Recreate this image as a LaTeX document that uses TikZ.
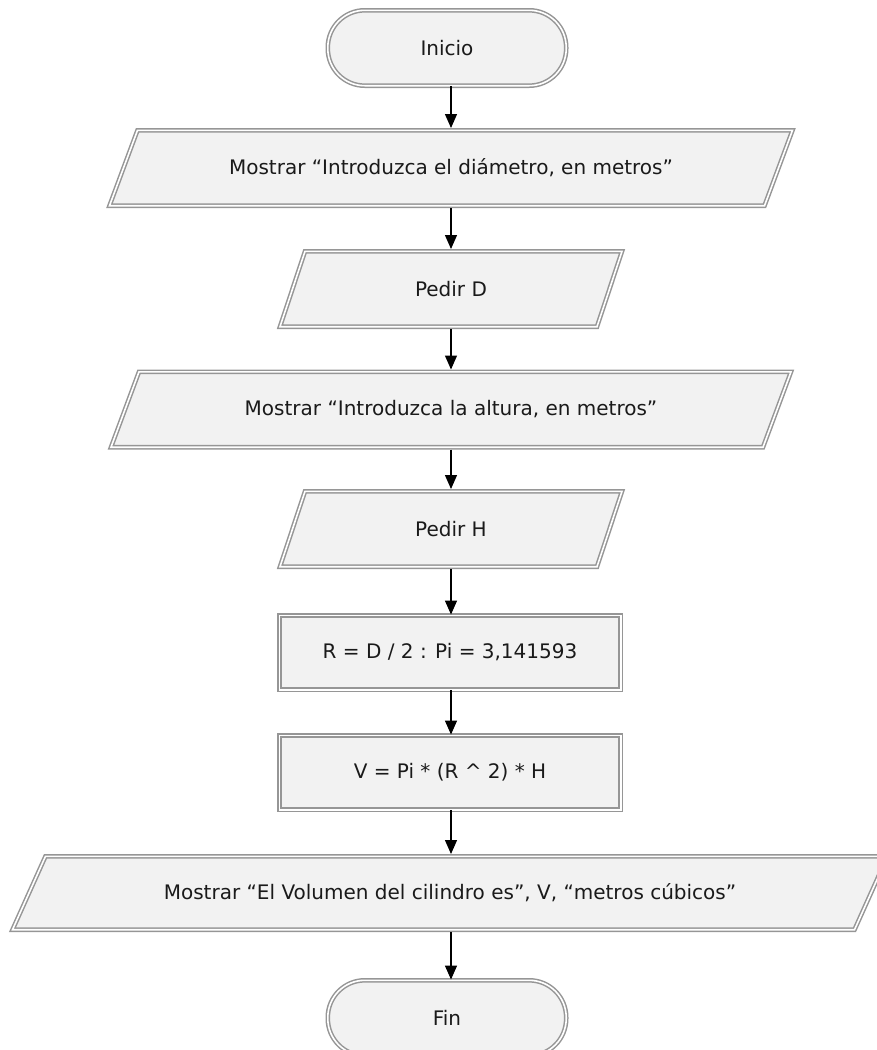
\documentclass[tikz,border=0pt]{standalone}
\usepackage{fontspec}
\setmainfont{DejaVu Sans}
\usetikzlibrary{arrows.meta}
\definecolor{boxfill}{HTML}{F2F2F2}
\definecolor{boxline}{HTML}{969696}
\definecolor{txt}{HTML}{1A1A1A}
% name, cx, cy, total width, height, slant, text
\newcommand\iobox[7]{%
  \draw[base] ({#2-#4/2},{#3+#5/2}) -- ({#2-#4/2+#6},{#3-#5/2})
    -- ({#2+#4/2},{#3-#5/2}) -- ({#2+#4/2-#6},{#3+#5/2}) -- cycle;
  \node[textonly, minimum width={#4pt-#6pt}, minimum height={#5pt+4.6pt}] (#1) at (#2,#3) {#7};
}
\begin{document}
\begin{tikzpicture}[x=1pt,y=-1pt,
  font=\fontsize{20}{24}\selectfont,
  base/.style={fill=boxfill, draw=boxline, line width=1.5pt, double=white,
    double distance=1.6pt, inner sep=0pt, text=txt},
  textonly/.style={inner sep=0pt, outer sep=0pt, text=txt},
  term/.style={base, rectangle, rounded corners=37pt, minimum width=238.4pt, minimum height=75.4pt},
  proc/.style={base, rectangle, minimum width=341.4pt, minimum height=74.4pt},
  arr/.style={draw=black, line width=1.3pt, -{Triangle[length=14pt,width=12pt]}}
]
\useasboundingbox (0,0) rectangle (877,1050);

\node[term] (inicio) at (447,48) {Inicio};
\iobox{m1}{451}{168}{683}{75.4}{28}{Mostrar “Introduzca el diámetro, en metros”}
\iobox{pd}{451}{289}{342}{75.4}{25}{Pedir D}
\iobox{m2}{451}{409.5}{680}{75.4}{28}{Mostrar “Introduzca la altura, en metros”}
\iobox{ph}{451}{529}{342}{75.4}{25}{Pedir H}
\node[proc] (p1) at (450,652.5) {R = D / 2 : Pi = 3,141593};
\node[proc] (p2) at (450,772.5) {V = Pi * (R \^{} 2) * H};
\iobox{m3}{450}{893}{875}{73.4}{33}{Mostrar “El Volumen del cilindro es”, V, “metros cúbicos”}
\node[term] (fin) at (447,1018) {Fin};

\draw[arr] (m1.north |- inicio.south) -- (m1.north);
\draw[arr] (m1.south) -- (pd.north);
\draw[arr] (pd.south) -- (m2.north);
\draw[arr] (m2.south) -- (ph.north);
\draw[arr] (ph.south) -- (ph.south |- p1.north);
\draw[arr] (ph.south |- p1.south) -- (ph.south |- p2.north);
\draw[arr] (ph.south |- p2.south) -- (ph.south |- m3.north);
\draw[arr] (ph.south |- m3.south) -- (ph.south |- fin.north);
\end{tikzpicture}
\end{document}
